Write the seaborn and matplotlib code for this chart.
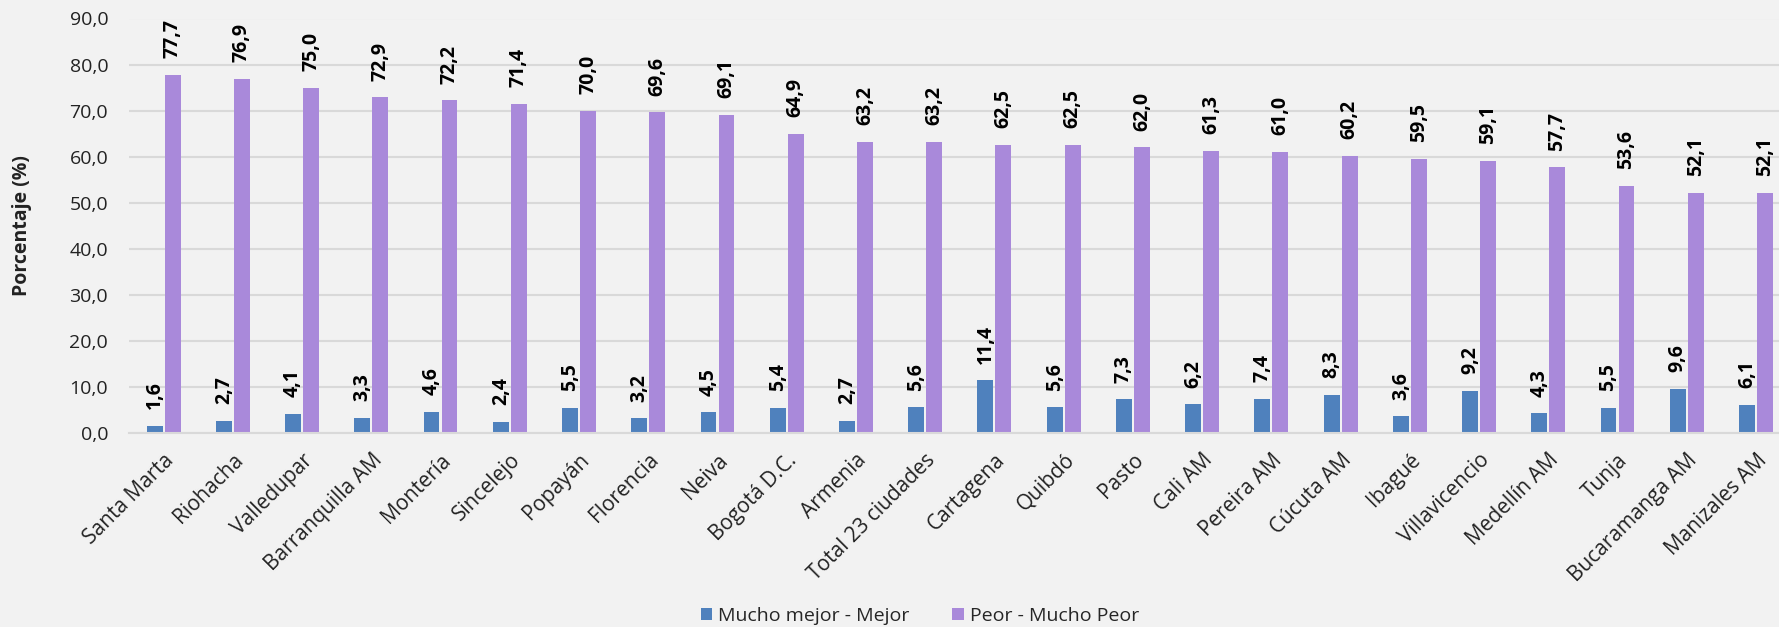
import numpy as np
import pandas as pd
import matplotlib
matplotlib.use("Agg")
import matplotlib.pyplot as plt
import seaborn as sns

categories = ["Santa Marta", "Riohacha", "Valledupar", "Barranquilla AM", "Montería",
              "Sincelejo", "Popayán", "Florencia", "Neiva", "Bogotá D.C.", "Armenia",
              "Total 23 ciudades", "Cartagena", "Quibdó", "Pasto", "Cali AM", "Pereira AM",
              "Cúcuta AM", "Ibagué", "Villavicencio", "Medellín AM", "Tunja",
              "Bucaramanga AM", "Manizales AM"]
mejor = [1.6, 2.7, 4.1, 3.3, 4.6, 2.4, 5.5, 3.2, 4.5, 5.4, 2.7, 5.6, 11.4, 5.6, 7.3,
         6.2, 7.4, 8.3, 3.6, 9.2, 4.3, 5.5, 9.6, 6.1]
peor = [77.7, 76.9, 75.0, 72.9, 72.2, 71.4, 70.0, 69.6, 69.1, 64.9, 63.2, 63.2, 62.5,
        62.5, 62.0, 61.3, 61.0, 60.2, 59.5, 59.1, 57.7, 53.6, 52.1, 52.1]
series_names = ["Mucho mejor - Mejor", "Peor - Mucho Peor"]
yticks = [0, 10, 20, 30, 40, 50, 60, 70, 80, 90]

df = pd.DataFrame({
    "Ciudad": categories * 2,
    "Serie": [series_names[0]] * len(categories) + [series_names[1]] * len(categories),
    "Valor": mejor + peor,
})

sns.set_theme(style="white")
plt.rcParams["font.family"] = ["Open Sans", "DejaVu Sans"]

BG = "#F2F2F2"
W, H = 1779, 627
fig = plt.figure(figsize=(W / 100, H / 100), dpi=100, facecolor=BG)
left_px, bottom_px, top_px = 129, 433, 18.5
ax = fig.add_axes([left_px / W, 1 - bottom_px / H, 1 - left_px / W, (bottom_px - top_px) / H])
ax.set_facecolor(BG)

palette = {series_names[0]: "#4F81BD", series_names[1]: "#A989DA"}
sns.barplot(data=df, x="Ciudad", y="Valor", hue="Serie", palette=palette,
            width=0.52, gap=0.12, ax=ax, saturation=1, legend=True,
            edgecolor="none")

for cont in ax.containers:
    ax.bar_label(cont, labels=[f"{v:.1f}".replace(".", ",") for v in cont.datavalues],
                 rotation=90, padding=12, fontsize=14, fontweight="bold", color="black")

ax.set_ylim(0, 90)
ax.set_xlim(-0.5, 23 + (W - 1756) / 69.2)
ax.set_yticks(yticks)
ax.set_yticklabels([f"{v:.1f}".replace(".", ",") for v in yticks], fontsize=14, color="#222222")
ax.yaxis.grid(True, color="#D9D9D9", linewidth=1.5)
ax.set_axisbelow(True)
for s in ["left", "right", "top"]:
    ax.spines[s].set_visible(False)
ax.spines["bottom"].set_color("#D9D9D9")
ax.spines["bottom"].set_linewidth(1.5)
ax.tick_params(axis="both", length=0)
ax.tick_params(axis="y", pad=15)
ax.tick_params(axis="x", pad=12)
plt.setp(ax.get_xticklabels(), rotation=45, ha="right", rotation_mode="anchor",
         fontsize=15, color="#222222")
ax.set_xlabel("")
ax.set_ylabel("Porcentaje (%)", fontsize=14, fontweight="bold", color="#222222")
ax.yaxis.set_label_coords((32 - left_px) / (W - left_px), 0.5)

handles, labels = ax.get_legend_handles_labels()
ax.legend(handles, labels, loc="center", bbox_to_anchor=(920 / W, 1 - 616 / H),
          bbox_transform=fig.transFigure, ncol=2, frameon=False, fontsize=14,
          handlelength=0.6, handleheight=0.6, handletextpad=0.3, columnspacing=2.2,
          borderpad=0)

fig.savefig("out.png", dpi=100, facecolor=BG)
